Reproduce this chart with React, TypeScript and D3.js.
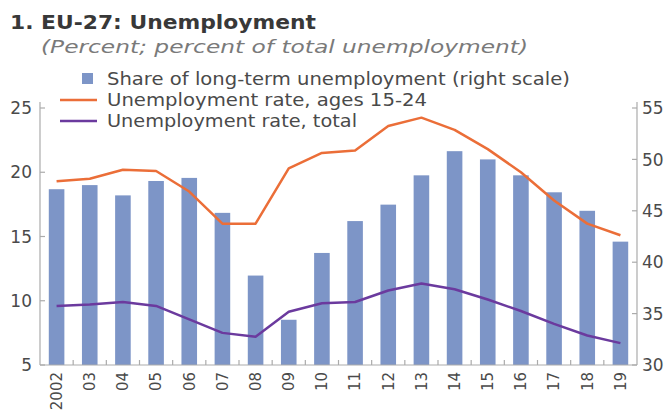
import React from "react";
import * as d3 from "d3";

const years = ["2002","03","04","05","06","07","08","09","10","11","12","13","14","15","16","17","18","19"];
const longTermShare = [47.1,47.5,46.5,47.9,48.2,44.8,38.7,34.4,40.9,44.0,45.6,48.45,50.8,50.0,48.45,46.8,45.0,42.0];
const youthRate = [19.3,19.5,20.2,20.1,18.5,16.0,16.0,20.3,21.5,21.7,23.6,24.25,23.3,21.8,20.0,17.8,16.0,15.1];
const totalRate = [9.6,9.7,9.9,9.6,8.55,7.5,7.2,9.15,9.8,9.9,10.8,11.35,10.9,10.1,9.2,8.2,7.3,6.7];
const leftTicks = [5,10,15,20,25];
const rightTicks = [30,35,40,45,50,55];

const W = 670, H = 411;
const left = 40, right = 637, top = 108, bottom = 365;
const font = "'DejaVu Sans', sans-serif";
const axisColor = "#ababab";
const textColor = "#4a4a4a";
const barColor = "#7d95c7";
const orange = "#eb6e38";
const purple = "#6b3a9e";

export default function App() {
  const x = d3.scaleBand<string>().domain(years).range([left, right]).padding(0);
  const yL = d3.scaleLinear().domain([5, 25]).range([bottom, top]);
  const yR = d3.scaleLinear().domain([30, 55]).range([bottom, top]);
  const bw = x.bandwidth() * 0.47;
  const cx = (d: string) => (x(d) as number) + x.bandwidth() / 2;
  const lineY = d3.line<number>().x((_, i) => cx(years[i])).y((v) => yL(v));

  return (
    <svg width={W} height={H} style={{ position: "absolute", left: 0, top: 0, background: "#fff" }}>
      <text x={10} y={29} fontFamily={font} fontWeight={700} fontSize={20} fill="#383838" textLength={306} lengthAdjust="spacingAndGlyphs">1. EU-27: Unemployment</text>
      <text x={41} y={53} fontFamily={font} fontStyle="italic" fontSize={18.5} fill="#7a7a7a" textLength={487} lengthAdjust="spacingAndGlyphs">(Percent; percent of total unemployment)</text>

      {years.map((d, i) => (
        <rect key={d} x={cx(d) - bw / 2} y={yR(longTermShare[i])} width={bw} height={bottom - yR(longTermShare[i])} fill={barColor} />
      ))}

      <path d={lineY(youthRate) || ""} fill="none" stroke={orange} strokeWidth={2.5} strokeLinejoin="round" />
      <path d={lineY(totalRate) || ""} fill="none" stroke={purple} strokeWidth={2.5} strokeLinejoin="round" />

      {/* axes */}
      <line x1={left} x2={left} y1={top - 6} y2={bottom} stroke={axisColor} strokeWidth={1.2} />
      <line x1={right} x2={right} y1={top - 6} y2={bottom} stroke={axisColor} strokeWidth={1.2} />
      <line x1={left} x2={right} y1={bottom} y2={bottom} stroke={axisColor} strokeWidth={1.2} />
      {leftTicks.map((t) => (
        <g key={"l" + t}>
          <line x1={left} x2={left + 5} y1={yL(t)} y2={yL(t)} stroke={axisColor} strokeWidth={1.2} />
          <text x={left - 8} y={yL(t)} dy="0.36em" textAnchor="end" fontFamily={font} fontSize={17} fill={textColor}>{t}</text>
        </g>
      ))}
      {rightTicks.map((t) => (
        <g key={"r" + t}>
          <line x1={right - 5} x2={right} y1={yR(t)} y2={yR(t)} stroke={axisColor} strokeWidth={1.2} />
          <text x={right + 5} y={yR(t)} dy="0.36em" textAnchor="start" fontFamily={font} fontSize={17} fill={textColor}>{t}</text>
        </g>
      ))}
      {years.slice(1).map((d) => (
        <line key={"t" + d} x1={x(d) as number} x2={x(d) as number} y1={bottom} y2={bottom - 5} stroke={axisColor} strokeWidth={1.2} />
      ))}
      {years.map((d) => (
        <text key={"x" + d} transform={`translate(${cx(d)},${bottom + 7}) rotate(-90)`} dy="0.36em" textAnchor="end" fontFamily={font} fontSize={15} fill={textColor}>{d}</text>
      ))}

      {/* legend */}
      <rect x={82} y={73} width={11} height={11} fill={barColor} />
      <text x={107} y={85} fontFamily={font} fontSize={17} fill={textColor} textLength={463} lengthAdjust="spacingAndGlyphs">Share of long-term unemployment (right scale)</text>
      <line x1={60} x2={97} y1={100} y2={100} stroke={orange} strokeWidth={2.5} />
      <text x={107} y={106} fontFamily={font} fontSize={17} fill={textColor} textLength={320} lengthAdjust="spacingAndGlyphs">Unemployment rate, ages 15-24</text>
      <line x1={60} x2={97} y1={121} y2={121} stroke={purple} strokeWidth={2.5} />
      <text x={107} y={127} fontFamily={font} fontSize={17} fill={textColor} textLength={250} lengthAdjust="spacingAndGlyphs">Unemployment rate, total</text>
    </svg>
  );
}
